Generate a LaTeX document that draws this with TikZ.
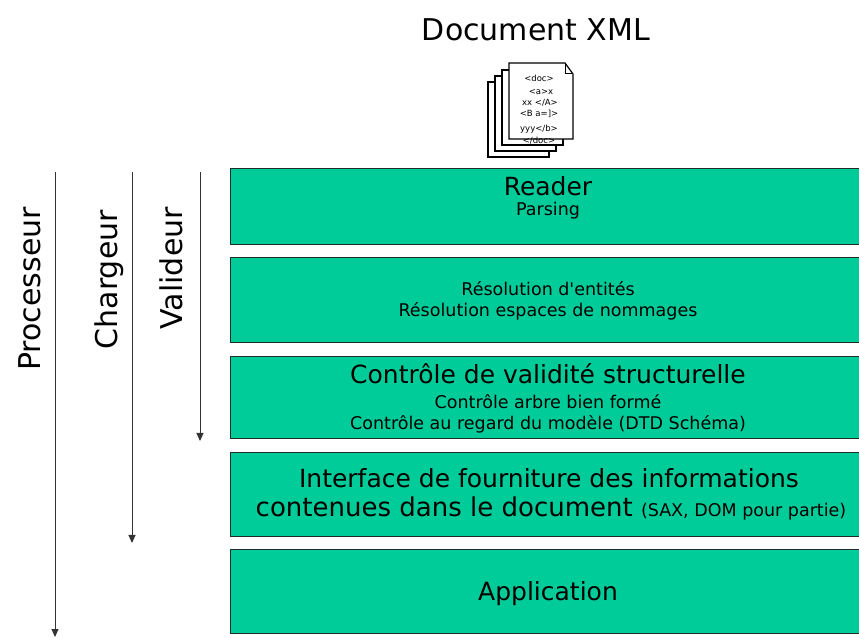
\documentclass[tikz,border=0pt]{standalone}
\usepackage{fontspec}
\setmainfont{DejaVu Sans}[Ligatures=TeXOff]
\usetikzlibrary{arrows.meta}
\definecolor{boxgreen}{RGB}{0,204,153}
\definecolor{edgecol}{RGB}{30,45,40}
\newcommand{\fsz}[1]{\fontsize{#1}{#1}\selectfont}
\begin{document}
\begin{tikzpicture}[x=1pt,y=1pt,
  layerbox/.style={draw=edgecol,line width=1.4pt,fill=boxgreen},
  bigtxt/.style={anchor=base,inner sep=0pt,font=\fsz{25}},
  smalltxt/.style={anchor=base,inner sep=0pt,font=\fsz{17.5}},
  sidelab/.style={rotate=90,anchor=base east,inner sep=0pt,font=\fsz{30}},
  flowarrow/.style={draw=black!80,line width=1pt,-{Triangle[width=7pt,length=8pt]}},
  page/.style={draw=black,line width=1.2pt,fill=white},
  tinytxt/.style={anchor=base,inner sep=0pt,font=\fsz{8.5}}]
\clip (0,0) rectangle (859,637);
\useasboundingbox (0,0) rectangle (859,637);
\fill[white] (0,0) rectangle (859,637);

% title
\node[anchor=base,inner sep=0pt,font=\fsz{30}] (title) at (536,596) {Document XML};

% document stack icon
\draw[page] (488,480) rectangle (549,555);
\draw[page] (495,486) rectangle (556,561);
\draw[page] (502,492) rectangle (563,567);
\draw[page] (509,498) -- (509,574) -- (565,574) -- (573,563) -- (573,498) -- cycle;
\draw[black,line width=1pt] (565,574) -- (565,563) -- (573,563);
\node[tinytxt] (t1) at (539,555) {<doc>};
\node[tinytxt] (t2) at (541,542) {<a>x};
\node[tinytxt] (t3) at (540,531) {xx </A>};
\node[tinytxt] (t4) at (539,520) {<B a=]>};
\node[tinytxt] (t5) at (539,505) {yyy</b>};
\node[tinytxt] (t6) at (539,493) {</doc>};

% layer boxes
\node[layerbox,anchor=south west,minimum width=640pt,minimum height=76pt,inner sep=0pt] (b1) at (230,392) {};
\node[layerbox,anchor=south west,minimum width=640pt,minimum height=85pt,inner sep=0pt] (b2) at (230,294) {};
\node[layerbox,anchor=south west,minimum width=640pt,minimum height=82pt,inner sep=0pt] (b3) at (230,198) {};
\node[layerbox,anchor=south west,minimum width=640pt,minimum height=84pt,inner sep=0pt] (b4) at (230,100) {};
\node[layerbox,anchor=south west,minimum width=640pt,minimum height=84pt,inner sep=0pt] (b5) at (230,3) {};

% box texts
\node[bigtxt] (reader) at (548,441) {Reader};
\node[smalltxt] (parsing) at (548,421) {Parsing};
\node[smalltxt] (res1) at (548,341) {Résolution d'entités};
\node[smalltxt] (res2) at (548,320) {Résolution espaces de nommages};
\node[bigtxt] (ctl) at (548,253) {Contrôle de validité structurelle};
\node[smalltxt] (ctl1) at (548,228) {Contrôle arbre bien formé};
\node[smalltxt] (ctl2) at (548,207) {Contrôle au regard du modèle (DTD Schéma)};
\node[bigtxt] (if1) at (549,149) {Interface de fourniture des informations};
\node[bigtxt,font=\fsz{26}] (if2) at (551,120) {contenues dans le document {\fsz{17.5}(SAX, DOM pour partie)}};
\node[bigtxt] (app) at (548,37) {Application};

% side labels
\node[sidelab] (proc) at (40,430) {Processeur};
\node[sidelab] (charg) at (117,427) {Chargeur};
\node[sidelab] (valid) at (182,430) {Valideur};

% arrows
\coordinate (pA) at (55,465);
\coordinate (pB) at (55,0);
\coordinate (cA) at (132,465);
\coordinate (cB) at (132,94);
\coordinate (vA) at (200,465);
\coordinate (vB) at (200,196);
\draw[flowarrow] (pA) -- (pB);
\draw[flowarrow] (cA) -- (cB);
\draw[flowarrow] (vA) -- (vB);
\end{tikzpicture}
\end{document}
